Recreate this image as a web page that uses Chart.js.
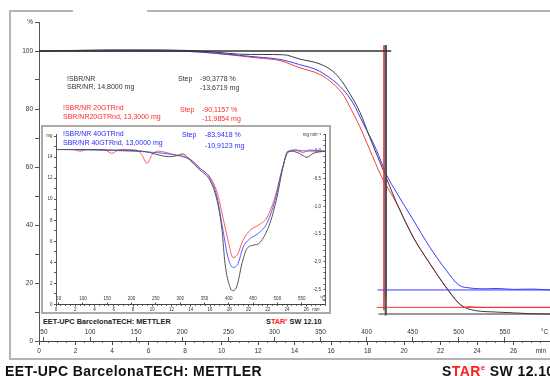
<!DOCTYPE html>
<html><head><meta charset="utf-8">
<script src="https://cdn.jsdelivr.net/npm/chart.js@4.4.1/dist/chart.umd.min.js"></script>
<style>
html,body{margin:0;padding:0;background:#fff;}
body{width:550px;height:376px;overflow:hidden;position:relative;font-family:"Liberation Sans",Arial,sans-serif;}
.a{position:absolute;white-space:nowrap;}
.fr{position:absolute;background:#b4b4b4;}
.t7{position:absolute;white-space:nowrap;font-size:7px;line-height:8px;}
.k{color:#333}.r{color:#ff2a2a}.b{color:#2a2aff}
</style></head><body>
<div class="fr" style="left:10px;top:10px;width:63px;height:2px"></div>
<div class="fr" style="left:147px;top:10px;width:403px;height:2px"></div>
<div class="fr" style="left:9px;top:10px;width:2px;height:350px"></div>
<div class="fr" style="left:9px;top:358px;width:541px;height:2px"></div>
<canvas id="main" width="550" height="376" class="a" style="left:0;top:0"></canvas>
<div class="a" style="left:41px;top:125px;width:290px;height:202px;background:#fff"></div>
<div class="a" style="left:41px;top:125px;width:286px;height:185px;border:2px solid #aaa"></div>
<canvas id="inset" width="289" height="188" class="a" style="left:42px;top:126px"></canvas>
<div class="a" style="left:43px;top:317px;font:bold 7.3px 'Liberation Sans',Arial,sans-serif;color:#222">EET-UPC BarcelonaTECH: METTLER</div>
<div class="a" style="left:266px;top:317px;font:bold 7.3px 'Liberation Sans',Arial,sans-serif;color:#222">S<span style="color:#ff2020">TAR<sup style="font-size:4px">e</sup></span> SW 12.10</div>

<div class="t7 k" style="left:67px;top:75px">!SBR/NR</div>
<div class="t7 k" style="left:67px;top:83px">SBR/NR, 14,8000 mg</div>
<div class="t7 k" style="left:178px;top:75px">Step</div>
<div class="t7 k" style="left:200px;top:75px">-90,3778 %</div>
<div class="t7 k" style="left:200px;top:84px">-13,6719 mg</div>

<div class="t7 r" style="left:63px;top:104px">!SBR/NR 20GTRnd</div>
<div class="t7 r" style="left:63px;top:113px">SBR/NR20GTRnd, 13,3000 mg</div>
<div class="t7 r" style="left:180px;top:106px">Step</div>
<div class="t7 r" style="left:202px;top:106px">-90,1157 %</div>
<div class="t7 r" style="left:202px;top:115px">-11,9854 mg</div>

<div class="t7 b" style="left:63px;top:130px">!SBR/NR 40GTRnd</div>
<div class="t7 b" style="left:63px;top:139px">SBR/NR 40GTRnd, 13,0000 mg</div>
<div class="t7 b" style="left:182px;top:131px">Step</div>
<div class="t7 b" style="left:205px;top:131px">-83,9418 %</div>
<div class="t7 b" style="left:205px;top:142px">-10,9123 mg</div>

<div class="a" style="left:5px;top:363px;font:bold 14px 'Liberation Sans',Arial,sans-serif;letter-spacing:0.4px;line-height:16px;color:#111">EET-UPC BarcelonaTECH: METTLER</div>
<div class="a" style="left:442px;top:363px;font:bold 14px 'Liberation Sans',Arial,sans-serif;letter-spacing:0.4px;line-height:16px;color:#111">S<span style="color:#ff2020">TAR<sup style="font-size:8px;line-height:0">e</sup></span> SW 12.10</div>

<script>
// ---------------- data ----------------
const TIME_TICKS = [0, 2, 4, 6, 8, 10, 12, 14, 16, 18, 20, 22, 24, 26];
const TIME_UNIT = 'min';
const TEMP_TICKS = [50, 100, 150, 200, 250, 300, 350, 400, 450, 500, 550];
const TEMP_UNIT = '°C';
const PCT_TICKS = [0, 20, 40, 60, 80, 100];
const PCT_UNIT = '%';
const MG_TICKS = [0, 2, 4, 6, 8, 10, 12, 14];
const MG_UNIT = 'mg';
const DTG_TICKS = [0, -0.5, -1, -1.5, -2, -2.5];
const DTG_UNIT = 'mg min⁻¹';

// axis ranges (time in min, temperature in °C)
const TIME_MAX = 28;
const TEMP_MIN = 44.6, TEMP_MAX = 599;
const PCT_MAX = 110;
const MG_MAX = 16.2;
const DTG_MIN = -2.77, DTG_MAX = 0.31;
const TIME_UNIT_AT_MAIN = 27.5, TIME_UNIT_AT_INSET = 27.0, TEMP_UNIT_AT = 593;

// TG curves (% vs min)
const TG_TIME_SBR = [0, 2, 4, 6, 8, 9.5, 11, 12.2, 13.4, 14.3, 15.4, 16.1, 16.6, 17.0, 17.6, 18.1, 18.85, 19.6, 20.5, 21.4, 22.3, 23.0, 23.4, 24.0, 25, 26, 27, 28];
const TG_PCT_SBR  = [100, 100.2, 100.4, 100.4, 100.2, 99.7, 98.9, 98.8, 98.7, 97.2, 95.5, 93.0, 89.5, 85.6, 78.7, 70.6, 59.1, 47.6, 35.9, 26.9, 18.6, 13.1, 11.4, 10.4, 10.0, 9.7, 9.4, 9.3];
const TG_TIME_20 = [0, 4, 8, 9.5, 11, 12, 13.2, 14.3, 15.4, 16.1, 16.66, 17.02, 17.57, 18.12, 18.76, 19.6, 20.5, 21.4, 22.3, 23.0, 23.3, 23.6, 24, 26, 28];
const TG_PCT_20  = [100, 100, 99.9, 99.3, 98.3, 97.6, 96.7, 94.2, 91.9, 88.8, 85.0, 80.9, 74.0, 66.0, 56.8, 47.4, 35.8, 26.8, 18.5, 13.0, 11.6, 11.9, 11.6, 11.6, 11.6];
const TG_TIME_40 = [0, 4, 8, 9.5, 11, 12, 13.2, 14.28, 15.38, 16.66, 17.2, 17.75, 18.48, 19.05, 19.6, 20.5, 21.4, 22.3, 23.0, 23.6, 24.5, 25.1, 26, 27, 28];
const TG_PCT_40  = [100, 100, 99.9, 99.3, 98.5, 97.9, 97.1, 95.3, 93.0, 86.7, 82.1, 75.2, 66.0, 57.2, 51.1, 41.8, 32.5, 24.5, 19.3, 18.3, 18.0, 18.1, 17.8, 17.9, 17.6];

// step evaluation (black, red, blue)
const STEP_START_PCT = 100, STEP_START_END = 19.3;
const STEP_MARK_TIME = [19.0, 18.9, 19.0];
const STEP_MARK_TOP = 102;
const STEP_MARK_BOTTOM = [8.8, 10.6, 15.2];
const STEP_RESIDUE_PCT = [9.3, 11.6, 17.6];
const STEP_RESIDUE_FROM = [18.6, 18.5, 18.55];

// DTG curves (mg/min vs min)
const DTG_TIME_SBR = [0, 3, 6, 9, 11.8, 12.6, 13.1, 13.5, 13.9, 14.96, 16.0, 16.73, 17.25, 17.56, 18.08, 18.39, 18.81, 19.32, 19.84, 20.47, 21.19, 22.23, 22.96, 23.58, 24.1, 25.04, 25.56, 26.08, 26.7, 28];
const DTG_SBR      = [0.03, 0.03, 0.02, 0.0, -0.1, -0.08, -0.05, -0.08, -0.16, -0.34, -0.53, -0.89, -1.43, -2.03, -2.46, -2.52, -2.43, -2.03, -1.76, -1.70, -1.65, -1.30, -0.83, -0.29, 0.0, -0.02, -0.07, -0.11, -0.04, 0.0];
const DTG_TIME_20 = [0, 1.8, 2.5, 3.2, 5.0, 5.8, 6.6, 8.3, 8.9, 9.45, 10.0, 10.6, 12, 13.9, 14.96, 16.0, 16.73, 17.35, 17.87, 18.39, 18.81, 19.43, 20.16, 20.99, 21.92, 22.75, 23.48, 24.1, 25.04, 26.39, 28];
const DTG_20      = [0.03, 0.03, 0.0, 0.03, 0.03, -0.04, 0.03, 0.02, -0.06, -0.22, -0.06, 0.0, -0.05, -0.14, -0.31, -0.47, -0.74, -1.20, -1.61, -1.92, -1.88, -1.61, -1.43, -1.34, -1.20, -0.83, -0.34, -0.02, 0.02, 0.0, 0.0];
const DTG_TIME_40 = [0, 4, 8, 10, 12, 13.9, 14.96, 16.0, 16.73, 17.35, 17.87, 18.39, 18.91, 19.43, 20.16, 20.99, 21.92, 22.75, 23.48, 24.1, 24.83, 25.66, 26.39, 28];
const DTG_40      = [0.03, 0.02, 0.0, -0.02, -0.06, -0.15, -0.31, -0.49, -0.83, -1.43, -1.92, -2.10, -2.03, -1.74, -1.58, -1.49, -1.30, -0.89, -0.34, -0.02, 0.02, -0.02, 0.02, 0.0];

// ---------------- helpers ----------------
const FAM = "'Liberation Sans', Arial, sans-serif";
const xy = (ts, vs) => ts.map((t, i) => ({x: t, y: vs[i]}));
const seq = (a, b, s) => { const r = []; for (let i = 0; a + i * s <= b + 1e-9; i++) r.push(Math.round((a + i * s) * 1000) / 1000); return r; };
const near = (arr, v) => arr.some(d => Math.abs(d - v) < 1e-6);
const line = (data, color, w, extra) => Object.assign({data, borderColor: color, borderWidth: w, pointRadius: 0, fill: false, tension: 0, xAxisID: 'x', yAxisID: 'y'}, extra || {});
const curve = (data, color, w, yId) => line(data, color, w, {cubicInterpolationMode: 'monotone', yAxisID: yId || 'y'});
const hTicks = (s, vals) => { s.ticks = vals.map(v => ({value: v})); };

function bottomAxes(cfg) {
  return {
    xMinor: {type: 'linear', axis: 'x', position: 'bottom', weight: 0, min: 0, max: TIME_MAX,
      afterBuildTicks: s => hTicks(s, seq(0, TIME_MAX, 0.5)),
      afterFit: s => { s.height = 0; s.paddingLeft = 0; s.paddingRight = 0; },
      ticks: {display: false}, border: {display: false},
      grid: {drawOnChartArea: false, tickLength: cfg.minorLen, color: '#666', lineWidth: 1}},
    xTemp: {type: 'linear', axis: 'x', position: 'bottom', weight: 1, min: TEMP_MIN, max: TEMP_MAX,
      afterBuildTicks: s => hTicks(s, TEMP_TICKS.concat([TEMP_UNIT_AT])),
      afterFit: s => { s.height = 0; s.paddingLeft = 0; s.paddingRight = 0; },
      ticks: {mirror: true, padding: cfg.tempPad, autoSkip: false, maxRotation: 0, minRotation: 0,
        font: {family: FAM, size: cfg.font}, color: '#333',
        callback: v => v === TEMP_UNIT_AT ? TEMP_UNIT : String(v)},
      border: {display: false},
      grid: {drawOnChartArea: false, tickLength: -cfg.tickLen,
        color: c => (c.tick && c.tick.value === TEMP_UNIT_AT) ? 'rgba(0,0,0,0)' : '#555'}},
    x: {type: 'linear', axis: 'x', position: 'bottom', weight: 2, min: 0, max: TIME_MAX,
      afterBuildTicks: s => hTicks(s, TIME_TICKS.concat([cfg.unitAt])),
      afterFit: s => { s.height = cfg.height; s.paddingLeft = 0; s.paddingRight = 0; },
      ticks: {padding: cfg.timePad, autoSkip: false, maxRotation: 0, minRotation: 0,
        font: {family: FAM, size: cfg.font}, color: '#333',
        callback: v => v === cfg.unitAt ? TIME_UNIT : String(v)},
      border: {display: true, color: '#444', width: 1},
      grid: {drawOnChartArea: false, tickLength: cfg.tickLen,
        color: c => (c.tick && c.tick.value === cfg.unitAt) ? 'rgba(0,0,0,0)' : '#444'}}
  };
}

// ---------------- main chart ----------------
const mainDatasets = [
  line(xy([0, STEP_START_END], [STEP_START_PCT, STEP_START_PCT]), '#333', 1.5),
  line(xy([STEP_MARK_TIME[0], STEP_MARK_TIME[0]], [STEP_MARK_TOP, STEP_MARK_BOTTOM[0]]), '#555', 2.2),
  line(xy([STEP_RESIDUE_FROM[0], TIME_MAX], [STEP_RESIDUE_PCT[0], STEP_RESIDUE_PCT[0]]), '#333', 1),
  line(xy([STEP_RESIDUE_FROM[1], TIME_MAX], [STEP_RESIDUE_PCT[1], STEP_RESIDUE_PCT[1]]), '#ff3030', 1),
  line(xy([STEP_RESIDUE_FROM[2], TIME_MAX], [STEP_RESIDUE_PCT[2], STEP_RESIDUE_PCT[2]]), '#3a3aff', 1),
  line(xy([STEP_MARK_TIME[1], STEP_MARK_TIME[1]], [STEP_MARK_TOP, STEP_MARK_BOTTOM[1]]), '#ff3030', 1.5),
  line(xy([STEP_MARK_TIME[2], STEP_MARK_TIME[2]], [STEP_MARK_TOP, STEP_MARK_BOTTOM[2]]), '#000090', 2),
  curve(xy(TG_TIME_SBR, TG_PCT_SBR), '#3c3c3c', 1),
  curve(xy(TG_TIME_40, TG_PCT_40), '#3a3aff', 1),
  curve(xy(TG_TIME_20, TG_PCT_20), '#ff3a3a', 1)
];

const mainScales = Object.assign(bottomAxes({minorLen: 2, font: 6.5, tempPad: 5, tickLen: 4, timePad: 2, height: 35, unitAt: TIME_UNIT_AT_MAIN}), {
  y: {type: 'linear', axis: 'y', position: 'left', min: 0, max: PCT_MAX,
    afterBuildTicks: s => hTicks(s, seq(0, PCT_MAX, 10)),
    afterFit: s => { s.width = 39; s.paddingTop = 0; s.paddingBottom = 0; },
    ticks: {padding: 2, autoSkip: false, font: {family: FAM, size: 6.5}, color: '#333',
      callback: v => v === PCT_MAX ? PCT_UNIT : (near(PCT_TICKS, v) ? String(v) : '')},
    border: {display: true, color: '#555', width: 1},
    grid: {drawOnChartArea: false, tickLength: 4, color: '#555'}}
});

new Chart(document.getElementById('main'), {
  type: 'line',
  data: {datasets: mainDatasets},
  options: {
    responsive: false, animation: false, devicePixelRatio: 1, events: [],
    layout: {padding: {top: 22, left: 0, right: 0, bottom: 0}},
    plugins: {legend: {display: false}, tooltip: {enabled: false}},
    scales: mainScales
  }
});

// ---------------- inset (DTG) chart ----------------
const insetDatasets = [
  curve(xy(DTG_TIME_SBR, DTG_SBR), '#555', 1, 'y2'),
  curve(xy(DTG_TIME_40, DTG_40), '#5a5aff', 1, 'y2'),
  curve(xy(DTG_TIME_20, DTG_20), '#ff5a5a', 1, 'y2')
];

const insetScales = Object.assign(bottomAxes({minorLen: 1.5, font: 4.5, tempPad: 3, tickLen: 2, timePad: 1, height: 9.5, unitAt: TIME_UNIT_AT_INSET}), {
  y: {type: 'linear', axis: 'y', position: 'left', min: 0, max: MG_MAX,
    afterBuildTicks: s => hTicks(s, seq(0, 16, 1)),
    afterFit: s => { s.width = 14; s.paddingTop = 0; s.paddingBottom = 0; },
    ticks: {padding: 1.5, autoSkip: false, font: {family: FAM, size: 4.5}, color: '#333',
      callback: v => v === 16 ? MG_UNIT : (near(MG_TICKS, v) ? String(v) : '')},
    border: {display: true, color: '#555', width: 1},
    grid: {drawOnChartArea: false, tickLength: 2, color: '#555'}},
  y2: {type: 'linear', axis: 'y', position: 'right', min: DTG_MIN, max: DTG_MAX,
    afterBuildTicks: s => hTicks(s, seq(-2.7, 0.3, 0.1)),
    afterFit: s => { s.width = 5.5; s.paddingTop = 0; s.paddingBottom = 0; },
    ticks: {mirror: true, padding: -4.5, autoSkip: false, font: {family: FAM, size: 4.5}, color: '#333',
      callback: v => Math.abs(v - 0.3) < 1e-6 ? DTG_UNIT : (near(DTG_TICKS, v) ? (Math.round(v * 10) / 10).toFixed(1).replace('.', ',') : '')},
    border: {display: true, color: '#555', width: 1},
    grid: {drawOnChartArea: false, tickLength: -2, color: '#555'}}
});

new Chart(document.getElementById('inset'), {
  type: 'line',
  data: {datasets: insetDatasets},
  options: {
    responsive: false, animation: false, devicePixelRatio: 1, events: [],
    layout: {padding: {top: 8, left: 0, right: 0, bottom: 0}},
    plugins: {legend: {display: false}, tooltip: {enabled: false}},
    scales: insetScales
  }
});
</script>
</body></html>
